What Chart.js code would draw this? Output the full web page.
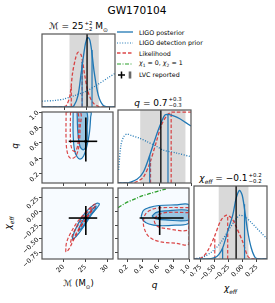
<!DOCTYPE html>
<html>
<head>
<meta charset="utf-8">
<script src="https://cdn.jsdelivr.net/npm/chart.js@4.4.1/dist/chart.umd.min.js"></script>
<style>
  body { margin: 0; width: 275px; height: 303px; position: relative; overflow: hidden; background: #fff; font-family: "DejaVu Sans", sans-serif; color: #000; }
  canvas { position: absolute; }
  .lbl { position: absolute; white-space: nowrap; transform: translate(-50%, -50%); line-height: 1; }
  .ss { display: inline-flex; flex-direction: column; font-size: 0.6em; line-height: 1.05; vertical-align: middle; margin-left: 1px; }
  .legend { position: absolute; left: 117px; top: 27px; font-size: 6.3px; }
  .legend div { height: 10.6px; display: flex; align-items: center; }
  .legend svg { width: 16px; height: 8px; margin-right: 6px; }
</style>
</head>
<body>
<div class="lbl" style="left:137px;top:10px;font-size:10.6px">GW170104</div>

<div class="lbl" style="left:78.5px;top:27px;font-size:9px">ℳ = 25<span class="ss"><span>+2</span><span>−2</span></span> M<sub style="font-size:0.65em">⊙</sub></div>
<div class="lbl" style="left:158px;top:103px;font-size:9px"><i>q</i> = 0.7<span class="ss"><span>+0.3</span><span>−0.3</span></span></div>
<div class="lbl" style="left:230.5px;top:179px;font-size:9px"><i>χ</i><sub style="font-size:0.65em"><i>eff</i></sub> = −0.1<span class="ss"><span>+0.2</span><span>−0.2</span></span></div>

<div class="lbl" style="left:78.5px;top:285px;font-size:8.5px">ℳ (M<sub style="font-size:0.65em">⊙</sub>)</div>
<div class="lbl" style="left:154.5px;top:285px;font-size:9px"><i>q</i></div>
<div class="lbl" style="left:230.5px;top:290px;font-size:9px"><i>χ</i><sub style="font-size:0.65em"><i>eff</i></sub></div>
<div class="lbl" style="left:15px;top:146px;font-size:9px;transform:translate(-50%,-50%) rotate(-90deg)"><i>q</i></div>
<div class="lbl" style="left:10px;top:223px;font-size:9px;transform:translate(-50%,-50%) rotate(-90deg)"><i>χ</i><sub style="font-size:0.65em"><i>eff</i></sub></div>

<div class="legend">
  <div><svg><line x1="0" y1="4" x2="16" y2="4" stroke="#1f77b4" stroke-width="1.3"/></svg>LIGO posterior</div>
  <div><svg><line x1="0" y1="4" x2="16" y2="4" stroke="#1f77b4" stroke-width="1.2" stroke-dasharray="1 1.6"/></svg>LIGO detection prior</div>
  <div><svg><line x1="0" y1="4" x2="16" y2="4" stroke="#d62728" stroke-opacity="0.85" stroke-width="1.3" stroke-dasharray="3.5 2"/></svg>Likelihood</div>
  <div><svg><line x1="0" y1="4" x2="16" y2="4" stroke="#2ca02c" stroke-width="1.2" stroke-dasharray="4 1.5 1 1.5"/></svg><span><i>χ</i><sub style="font-size:0.7em">1</sub> = 0, <i>χ</i><sub style="font-size:0.7em">2</sub> = 1</span></div>
  <div><svg><line x1="1" y1="4" x2="8" y2="4" stroke="#000" stroke-width="1.5"/><line x1="4.5" y1="0.5" x2="4.5" y2="7.5" stroke="#000" stroke-width="1.5"/><rect x="11" y="0.5" width="4" height="7" fill="#cfcfcf"/><line x1="13" y1="0.5" x2="13" y2="7.5" stroke="#000" stroke-width="1"/></svg>LVC reported</div>
</div>

<script>
// axis ranges and ticks
const mcRange = [15.1, 31.3];
const qRange = [0.08, 1.0];
const chiRange = [-0.87, 0.43];
const mcTicks = [20, 25, 30];
const mcTickLabels = ['20', '25', '30'];
const qTicks = [0.2, 0.4, 0.6, 0.8, 1.0];
const qTickLabels = ['0.2', '0.4', '0.6', '0.8', '1.0'];
const chiTicks = [-0.75, -0.5, -0.25, 0, 0.25];
const chiTickLabels = ['−0.75', '−0.50', '−0.25', '0.00', '0.25'];

// LVC reported values
const mcLvc = 25.1, mcBand = [21.2, 27.7];
const qLvc = 0.62, qBand = [0.36, 0.93];
const chiLvc = -0.12, chiBand = [-0.43, 0.10];

// chirp mass marginal
const mcPostX = [15.1, 21.5, 22.2, 23.1, 23.8, 24.6, 25.0, 25.3, 25.7, 26.1, 26.7, 27.6, 28.7, 30.0, 31.3];
const mcPostY = [0, 0, 0.02, 0.16, 0.47, 0.82, 0.93, 0.95, 0.92, 0.78, 0.47, 0.16, 0.02, 0, 0];
const mcLikeX = [15.1, 19.5, 20.5, 21.3, 21.9, 22.6, 23.1, 23.8, 24.6, 25.3, 26.4, 27.6, 29.0, 31.3];
const mcLikeY = [0, 0, 0.02, 0.16, 0.47, 0.68, 0.75, 0.71, 0.43, 0.21, 0.06, 0.01, 0, 0];
const mcPriorX = [15.1, 18, 20, 22.5, 25, 27.5, 30, 31.3];
const mcPriorY = [0.08, 0.09, 0.11, 0.16, 0.22, 0.31, 0.41, 0.46];
const mcPostQ = [24.0, 26.2], mcPostQH = [0.62, 0.78];
const mcLikeQ = [21.6, 24.0], mcLikeQH = [0.30, 0.62];

// mass ratio marginal
const qPostX = [0.08, 0.2, 0.23, 0.32, 0.40, 0.48, 0.55, 0.61, 0.67, 0.71, 0.78, 0.86, 0.93, 1.0];
const qPostY = [0, 0, 0.01, 0.05, 0.15, 0.38, 0.61, 0.79, 0.93, 0.94, 0.92, 0.88, 0.83, 0.78];
const qLikeX = [0.08, 0.25, 0.32, 0.40, 0.48, 0.565, 0.63, 0.70, 0.75, 0.80, 1.0];
const qLikeY = [0, 0, 0.02, 0.08, 0.27, 0.57, 0.80, 0.93, 0.97, 0.97, 0.97];
const qPriorX = [0.0875, 0.117, 0.15, 0.19, 0.25, 0.36, 0.44, 0.57, 0.65, 0.82, 1.0];
const qPriorY = [0.18, 0.52, 0.63, 0.67, 0.65, 0.61, 0.57, 0.50, 0.45, 0.41, 0.36];
const qPostQ = [0.48, 0.71], qPostQH = [0.38, 0.94];
const qLikeQ = [0.49, 0.75], qLikeQH = [0.30, 0.97];

// effective spin marginal
const chiPostX = [-0.87, -0.65, -0.50, -0.43, -0.36, -0.27, -0.18, -0.12, -0.06, -0.01, 0.045, 0.086, 0.15, 0.22, 0.30, 0.43];
const chiPostY = [0, 0, 0.02, 0.06, 0.15, 0.38, 0.60, 0.83, 0.94, 0.87, 0.60, 0.38, 0.15, 0.02, 0, 0];
const chiLikeX = [-0.87, -0.73, -0.62, -0.51, -0.39, -0.29, -0.20, -0.13, 0.0, 0.08, 0.15, 0.43];
const chiLikeY = [0, 0.02, 0.12, 0.30, 0.53, 0.60, 0.56, 0.46, 0.23, 0.05, 0, 0];
const chiPriorX = [-0.87, -0.7, -0.55, -0.4, -0.25, -0.12, -0.05, 0.05, 0.15, 0.25, 0.35, 0.43];
const chiPriorY = [0.0, 0.03, 0.10, 0.22, 0.40, 0.55, 0.60, 0.57, 0.50, 0.42, 0.34, 0.28];
const chiPostQ = [-0.36, 0.03], chiPostQH = [0.15, 0.75];
const chiLikeQ = [-0.50, -0.27], chiLikeQH = [0.30, 0.60];

// q vs chirp mass contours
const mqBlueOutMc = [22.2, 22.2, 22.5, 23.1, 23.8, 24.6, 25.3, 25.9, 26.2, 26.2, 22.2];
const mqBlueOutQ = [1.0, 0.72, 0.51, 0.42, 0.39, 0.43, 0.55, 0.72, 0.93, 1.0, 1.0];
const mqBlueInMc = [23.1, 23.3, 23.8, 24.6, 25.3, 25.4, 25.3, 23.1];
const mqBlueInQ = [1.0, 0.72, 0.55, 0.51, 0.59, 0.80, 1.0, 1.0];
const mqRedOutMc = [20.6, 20.6, 20.9, 21.6, 22.7, 23.5, 23.8, 23.8, 20.6];
const mqRedOutQ = [1.0, 0.63, 0.47, 0.40, 0.42, 0.55, 0.80, 1.0, 1.0];
const mqRedInMc = [21.6, 21.6, 22.0, 22.7, 23.3, 23.3, 21.6];
const mqRedInQ = [1.0, 0.63, 0.51, 0.49, 0.59, 1.0, 1.0];

// chi vs chirp mass contours
const mcBlueOutMc = [22.0, 22.5, 23.5, 24.6, 26.1, 27.6, 28.2, 27.7, 26.4, 25.0, 23.5, 22.2, 22.0];
const mcBlueOutChi = [-0.49, -0.37, -0.20, -0.06, 0.07, 0.15, 0.14, 0.07, -0.06, -0.23, -0.40, -0.51, -0.49];
const mcBlueInMc = [23.5, 24.6, 26.1, 27.4, 27.2, 25.9, 24.6, 23.7, 23.5];
const mcBlueInChi = [-0.31, -0.14, 0.0, 0.10, 0.04, -0.09, -0.26, -0.34, -0.31];
const mcRedOutMc = [20.5, 20.7, 21.6, 23.1, 25.0, 27.0, 27.4, 26.4, 24.6, 22.7, 21.3, 20.7, 20.5];
const mcRedOutChi = [-0.74, -0.57, -0.40, -0.20, -0.02, 0.13, 0.13, 0.0, -0.20, -0.46, -0.68, -0.74, -0.74];
const mcRedInMc = [21.6, 22.2, 23.5, 25.3, 26.6, 26.1, 24.6, 23.1, 22.0, 21.6];
const mcRedInChi = [-0.57, -0.40, -0.23, -0.03, 0.07, -0.02, -0.19, -0.37, -0.54, -0.57];

// chi vs q contours
const qcBlueOutQ = [0.38, 0.41, 0.48, 0.61, 0.82, 1.0, 1.0, 0.82, 0.61, 0.48, 0.41, 0.38];
const qcBlueOutChi = [-0.09, 0.02, 0.07, 0.11, 0.12, 0.12, -0.21, -0.25, -0.26, -0.23, -0.17, -0.09];
const qcBlueInQ = [0.52, 0.57, 0.69, 1.0, 1.0, 0.69, 0.59, 0.52];
const qcBlueInChi = [-0.09, -0.02, 0.01, 0.015, -0.155, -0.155, -0.14, -0.09];
const qcRedOutQ = [1.0, 0.65, 0.525, 0.44, 0.41, 0.42, 0.48, 0.61, 0.82, 1.0, 1.0];
const qcRedOutChi = [0.07, 0.07, 0.04, -0.04, -0.17, -0.31, -0.46, -0.55, -0.58, -0.59, 0.07];
const qcRedInQ = [1.0, 0.69, 0.59, 0.55, 0.59, 0.69, 1.0, 1.0];
const qcRedInChi = [-0.02, -0.02, -0.075, -0.17, -0.27, -0.31, -0.33, -0.02];
const greenQ = [0.08, 0.15, 0.2, 0.3, 0.4, 0.5, 0.6, 0.7];
const greenChi = [0.07, 0.13, 0.17, 0.23, 0.29, 0.33, 0.375, 0.41];

const SIZE = 73;
const COLS = [42, 118, 194];
const ROWS = [34, 110, 186];
const BLUE = '#1f77b4', RED = 'rgba(214,39,40,0.85)', GREEN = '#2ca02c';
const RED_DASH = [3.5, 2], DOT = [1, 1.6];

function pts(xs, ys) {
  return xs.map((x, i) => ({ x: x, y: ys[i] }));
}

function curve(xs, ys, color, dash, order) {
  return { data: pts(xs, ys), borderColor: color, borderDash: dash, borderWidth: 1.3, tension: 0.3, fill: false, order: order };
}

function contour(xs, ys, color, dash, fillColor, order) {
  return {
    data: pts(xs, ys), borderColor: color, borderDash: dash, borderWidth: 1.2, tension: 0.35,
    fill: fillColor ? 'shape' : false, backgroundColor: fillColor || 'transparent', order: order
  };
}

function vlines(vals, heights, color, dash) {
  return vals.map((v, i) => ({
    data: [{ x: v, y: 0 }, { x: v, y: heights[i] }],
    borderColor: color, borderDash: dash, borderWidth: 1.2, tension: 0, fill: false, order: 2
  }));
}

function lvcLine(v) {
  return { data: [{ x: v, y: 0 }, { x: v, y: 1 }], borderColor: '#000', borderWidth: 1.3, tension: 0, fill: false, order: 0 };
}

function cross(cx, cy, xr, yr) {
  return [
    { data: [{ x: xr[0], y: cy }, { x: xr[1], y: cy }], borderColor: '#000', borderWidth: 1.6, tension: 0, fill: false, order: 0 },
    { data: [{ x: cx, y: yr[0] }, { x: cx, y: yr[1] }], borderColor: '#000', borderWidth: 1.6, tension: 0, fill: false, order: 0 },
    { data: [{ x: cx, y: cy }], showLine: false, pointRadius: 1.6, pointBackgroundColor: '#000', pointBorderWidth: 0, order: 0 }
  ];
}

// background, grey band and frame for each panel
const deco = {
  id: 'deco',
  beforeDatasetsDraw(chart, args, o) {
    const { ctx, chartArea: a, scales } = chart;
    ctx.save();
    if (o.bg) {
      ctx.fillStyle = o.bg;
      ctx.fillRect(a.left, a.top, a.width, a.height);
    }
    if (o.band) {
      const x1 = scales.x.getPixelForValue(o.band[0]);
      const x2 = scales.x.getPixelForValue(o.band[1]);
      ctx.fillStyle = '#d9d9d9';
      ctx.fillRect(x1, a.top, x2 - x1, a.height);
    }
    ctx.restore();
  },
  afterDraw(chart) {
    const { ctx, chartArea: a } = chart;
    ctx.save();
    ctx.strokeStyle = '#555';
    ctx.lineWidth = 1.2;
    ctx.strokeRect(a.left, a.top, a.width, a.height);
    ctx.restore();
  }
};

function makePanel(col, row, cfg) {
  const ml = cfg.yLabels ? 40 : 4;
  const mb = cfg.xLabels ? 32 : 4;
  const mt = 2, mr = 2;
  const cv = document.createElement('canvas');
  cv.width = SIZE + ml + mr;
  cv.height = SIZE + mt + mb;
  cv.style.left = (COLS[col] - ml) + 'px';
  cv.style.top = (ROWS[row] - mt) + 'px';
  document.body.appendChild(cv);

  const axis = (range, ticks, labels, show, isX) => ({
    type: 'linear', min: range[0], max: range[1],
    afterBuildTicks: (s) => { s.ticks = ticks.map(v => ({ value: v })); },
    afterFit: (s) => {
      if (isX) s.height = mb; else s.width = ml;
      s.paddingLeft = s.paddingRight = s.paddingTop = s.paddingBottom = 0;
    },
    grid: { drawOnChartArea: false, drawTicks: true, tickLength: 3, color: '#444', lineWidth: 1 },
    border: { display: false },
    ticks: {
      display: show, autoSkip: false, minRotation: 45, maxRotation: 45, padding: 1, color: '#000',
      font: { family: 'DejaVu Sans', size: 6.5 }, callback: (v, i) => labels[i]
    }
  });

  const scales = { x: axis(cfg.x, cfg.xt, cfg.xl, !!cfg.xLabels, true) };
  scales.y = cfg.y ? axis(cfg.y, cfg.yt, cfg.yl, !!cfg.yLabels, false) : { display: false, min: 0, max: 1 };

  new Chart(cv, {
    type: 'line',
    data: { datasets: cfg.datasets },
    options: {
      responsive: false, animation: false, devicePixelRatio: 1,
      layout: { padding: { top: mt, right: mr, left: cfg.y ? 0 : ml, bottom: 0 } },
      elements: { point: { radius: 0 } },
      plugins: { legend: { display: false }, tooltip: { enabled: false }, deco: { bg: cfg.bg, band: cfg.band } },
      scales: scales
    },
    plugins: [deco]
  });
}

const BG2D = '#f7fbff';
const FILL_OUT = 'rgba(107,174,214,0.22)';
const FILL_IN = 'rgba(66,146,198,0.42)';

// chirp mass marginal
makePanel(0, 0, {
  x: mcRange, xt: mcTicks, xl: mcTickLabels, band: mcBand,
  datasets: [
    curve(mcPriorX, mcPriorY, BLUE, DOT, 4),
    curve(mcLikeX, mcLikeY, RED, RED_DASH, 3),
    curve(mcPostX, mcPostY, BLUE, [], 1),
    ...vlines(mcPostQ, mcPostQH, BLUE, []),
    ...vlines(mcLikeQ, mcLikeQH, RED, RED_DASH),
    lvcLine(mcLvc)
  ]
});

// mass ratio marginal
makePanel(1, 1, {
  x: qRange, xt: qTicks, xl: qTickLabels, band: qBand,
  datasets: [
    curve(qPriorX, qPriorY, BLUE, DOT, 4),
    curve(qLikeX, qLikeY, RED, RED_DASH, 3),
    curve(qPostX, qPostY, BLUE, [], 1),
    ...vlines(qPostQ, qPostQH, BLUE, []),
    ...vlines(qLikeQ, qLikeQH, RED, RED_DASH),
    lvcLine(qLvc)
  ]
});

// effective spin marginal
makePanel(2, 2, {
  x: chiRange, xt: chiTicks, xl: chiTickLabels, xLabels: true, band: chiBand,
  datasets: [
    curve(chiPriorX, chiPriorY, BLUE, DOT, 4),
    curve(chiLikeX, chiLikeY, RED, RED_DASH, 3),
    curve(chiPostX, chiPostY, BLUE, [], 1),
    ...vlines(chiPostQ, chiPostQH, BLUE, []),
    ...vlines(chiLikeQ, chiLikeQH, RED, RED_DASH),
    lvcLine(chiLvc)
  ]
});

// q vs chirp mass
makePanel(0, 1, {
  x: mcRange, xt: mcTicks, xl: mcTickLabels, y: qRange, yt: qTicks, yl: qTickLabels, yLabels: true, bg: BG2D,
  datasets: [
    contour(mqBlueOutMc, mqBlueOutQ, BLUE, [], FILL_OUT, 10),
    contour(mqBlueInMc, mqBlueInQ, BLUE, [], FILL_IN, 9),
    contour(mqRedOutMc, mqRedOutQ, RED, RED_DASH, null, 3),
    contour(mqRedInMc, mqRedInQ, RED, RED_DASH, null, 3),
    ...cross(mcLvc, qLvc, mcBand, qBand)
  ]
});

// chi vs chirp mass
makePanel(0, 2, {
  x: mcRange, xt: mcTicks, xl: mcTickLabels, xLabels: true, y: chiRange, yt: chiTicks, yl: chiTickLabels, yLabels: true, bg: BG2D,
  datasets: [
    contour(mcBlueOutMc, mcBlueOutChi, BLUE, [], FILL_OUT, 10),
    contour(mcBlueInMc, mcBlueInChi, BLUE, [], FILL_IN, 9),
    contour(mcRedOutMc, mcRedOutChi, RED, RED_DASH, null, 3),
    contour(mcRedInMc, mcRedInChi, RED, RED_DASH, null, 3),
    ...cross(mcLvc, chiLvc, mcBand, chiBand)
  ]
});

// chi vs q
makePanel(1, 2, {
  x: qRange, xt: qTicks, xl: qTickLabels, xLabels: true, y: chiRange, yt: chiTicks, yl: chiTickLabels, bg: BG2D,
  datasets: [
    contour(qcBlueOutQ, qcBlueOutChi, BLUE, [], FILL_OUT, 10),
    contour(qcBlueInQ, qcBlueInChi, BLUE, [], FILL_IN, 9),
    contour(qcRedOutQ, qcRedOutChi, RED, RED_DASH, null, 3),
    contour(qcRedInQ, qcRedInChi, RED, RED_DASH, null, 3),
    curve(greenQ, greenChi, GREEN, [4, 1.5, 1, 1.5], 2),
    ...cross(qLvc, chiLvc, qBand, chiBand)
  ]
});
</script>
</body>
</html>
